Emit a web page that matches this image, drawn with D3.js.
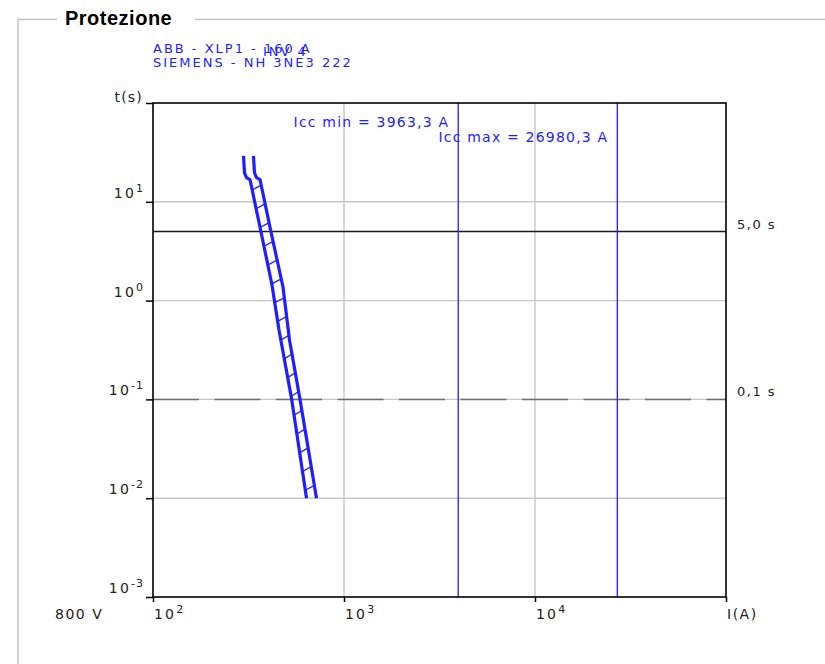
<!DOCTYPE html>
<html>
<head>
<meta charset="utf-8">
<script src="https://cdn.jsdelivr.net/npm/d3@7"></script>
<style>
body { margin: 0; background: #fff; }
text { font-family: "DejaVu Sans", Verdana, sans-serif; }
text.title { font-family: "Liberation Sans", Arial, sans-serif; }
</style>
</head>
<body>
<script>
// band of the fuse curve: current (A) and time (s), left and right edge
var currentMin = [297.7, 301.3, 308.7, 322.0, 367.7, 419.8, 456.8, 532.3, 636.5];
var timeMin = [29.1, 19.6, 17.6, 16.8, 4.95, 1.44, 0.504, 0.1, 0.01];
var currentMax = [335.8, 339.9, 348.3, 363.3, 414.8, 479.3, 518.4, 588.4, 717.8];
var timeMax = [29.1, 19.6, 17.6, 16.8, 4.95, 1.373, 0.399, 0.1, 0.01];

var iccValues = [3963.3, 26980.3];
var iccLabels = ['Icc min = 3963,3 A', 'Icc max = 26980,3 A'];
var timeLimits = [5, 0.1];
var timeLimitLabels = ['5,0 s', '0,1 s'];
var xTickExp = [2, 3, 4];
var yTickExp = [1, 0, -1, -2, -3];
var deviceLabels = ['ABB - XLP1 - 160 A', 'SIEMENS - NH 3NE3 222'];
var panelLabel = 'INV 4';
var title = 'Protezione';
var voltageLabel = '800 V';

var W = 825, H = 664;
var svg = d3.select('body').append('svg')
    .attr('width', W)
    .attr('height', H);

var x = d3.scaleLog().domain([1e2, 1e5]).range([153, 726]);
var y = d3.scaleLog().domain([1e-3, 1e2]).range([597, 103]);

var blue = '#1e1eff';
var txt = '#222';

// group frame
svg.append('path')
    .attr('d', 'M18,' + H + 'V19.5H57M195,19.5H' + W)
    .attr('fill', 'none')
    .attr('stroke', '#c4c4c4')
    .attr('stroke-width', 1.5);
svg.append('text')
    .attr('class', 'title')
    .attr('x', 65).attr('y', 25)
    .attr('font-size', 20).attr('font-weight', 'bold')
    .attr('letter-spacing', 0.5)
    .attr('fill', '#000')
    .text(title);

// grid
var grid = svg.append('g').attr('stroke', '#c8c8c8').attr('stroke-width', 1.4);
grid.selectAll('line.v').data([1e3, 1e4]).enter().append('line')
    .attr('x1', function (d) { return x(d); })
    .attr('x2', function (d) { return x(d); })
    .attr('y1', y.range()[1]).attr('y2', y.range()[0]);
grid.selectAll('line.h').data([10, 1, 0.1, 0.01]).enter().append('line')
    .attr('y1', function (d) { return y(d); })
    .attr('y2', function (d) { return y(d); })
    .attr('x1', x.range()[0]).attr('x2', x.range()[1]);

// time limits
svg.append('line')
    .attr('x1', x.range()[0]).attr('x2', x.range()[1])
    .attr('y1', y(timeLimits[0])).attr('y2', y(timeLimits[0]))
    .attr('stroke', '#1a1a1a').attr('stroke-width', 1.5);
svg.append('line')
    .attr('x1', x.range()[0]).attr('x2', x.range()[1])
    .attr('y1', y(timeLimits[1])).attr('y2', y(timeLimits[1]))
    .attr('stroke', '#6e6e6e').attr('stroke-width', 1.5)
    .attr('stroke-dasharray', '46,15.5');
svg.selectAll('text.lim').data(timeLimits).enter().append('text')
    .attr('x', 737)
    .attr('y', function (d) { return y(d) - 3; })
    .attr('font-size', 13).attr('letter-spacing', 1.5)
    .attr('fill', txt)
    .text(function (d, i) { return timeLimitLabels[i]; });

// short-circuit currents
svg.selectAll('line.icc').data(iccValues).enter().append('line')
    .attr('x1', function (d) { return x(d); })
    .attr('x2', function (d) { return x(d); })
    .attr('y1', y.range()[1]).attr('y2', y.range()[0])
    .attr('stroke', blue).attr('stroke-width', 1.3);
svg.selectAll('text.icc').data(iccValues).enter().append('text')
    .attr('x', function (d) { return x(d) - 9; })
    .attr('y', function (d, i) { return 127 + i * 15; })
    .attr('text-anchor', 'end')
    .attr('font-size', 14).attr('letter-spacing', 1.2)
    .attr('fill', blue)
    .text(function (d, i) { return iccLabels[i]; });

// axes
var xAxis = d3.axisBottom(x).tickValues([1e2, 1e3, 1e4, 1e5]).tickSize(5).tickFormat('');
var yAxis = d3.axisLeft(y).tickValues([1e2, 1e1, 1, 0.1, 0.01, 0.001]).tickSize(7).tickFormat('');
svg.append('g').attr('transform', 'translate(0,' + y.range()[0] + ')').call(xAxis)
    .call(function (g) { g.select('.domain').remove(); })
    .selectAll('line').attr('stroke', '#000').attr('stroke-width', 1.5);
svg.append('g').attr('transform', 'translate(' + x.range()[0] + ',0)').call(yAxis)
    .call(function (g) { g.select('.domain').remove(); })
    .selectAll('line').attr('stroke', '#000').attr('stroke-width', 1.5);
svg.append('rect')
    .attr('x', x.range()[0]).attr('y', y.range()[1])
    .attr('width', x.range()[1] - x.range()[0])
    .attr('height', y.range()[0] - y.range()[1])
    .attr('fill', 'none').attr('stroke', '#000').attr('stroke-width', 1.6);

// tick labels
var xl = svg.selectAll('text.xl').data(xTickExp).enter().append('text')
    .attr('x', function (d) { return x(Math.pow(10, d)) + 1; })
    .attr('y', 619)
    .attr('font-size', 14).attr('letter-spacing', 2.2)
    .attr('fill', txt);
xl.append('tspan').text('10');
xl.append('tspan').attr('dy', -6).attr('font-size', 11).attr('letter-spacing', 1)
    .text(function (d) { return d; });

var yl = svg.selectAll('text.yl').data(yTickExp).enter().append('text')
    .attr('x', 144)
    .attr('y', function (d) { return y(Math.pow(10, d)) - 4; })
    .attr('text-anchor', 'end')
    .attr('font-size', 14).attr('letter-spacing', 2.2)
    .attr('fill', txt);
yl.append('tspan').text('10');
yl.append('tspan').attr('dy', -6).attr('font-size', 11).attr('letter-spacing', 1)
    .text(function (d) { return d < 0 ? '-' + (-d) : d; });

svg.append('text').attr('x', 143).attr('y', 102).attr('text-anchor', 'end')
    .attr('font-size', 14).attr('letter-spacing', 1.2).attr('fill', txt).text('t(s)');
svg.append('text').attr('x', x(1e5) + 1).attr('y', 619)
    .attr('font-size', 14).attr('letter-spacing', 1.5).attr('fill', txt).text('I(A)');
svg.append('text').attr('x', 55).attr('y', 619)
    .attr('font-size', 14).attr('letter-spacing', 1.5).attr('fill', txt).text(voltageLabel);

// device labels
svg.selectAll('text.dev').data(deviceLabels).enter().append('text')
    .attr('x', 153)
    .attr('y', function (d, i) { return 53 + i * 14; })
    .attr('font-size', 13).attr('letter-spacing', 2)
    .attr('fill', blue)
    .text(function (d) { return d; });
svg.append('text').attr('x', 263).attr('y', 56)
    .attr('font-size', 13).attr('letter-spacing', 2)
    .attr('fill', blue).text(panelLabel);

// fuse band
var line = d3.line()
    .x(function (d) { return x(d[0]); })
    .y(function (d) { return y(d[1]); });
var minPts = d3.zip(currentMin, timeMin);
var maxPts = d3.zip(currentMax, timeMax);

// current at a given time on a band edge (log-log interpolation)
function currentAt(pts, t) {
    var lt = Math.log10(t);
    for (var i = 3; i < pts.length - 1; i++) {
        var a = Math.log10(pts[i][1]), b = Math.log10(pts[i + 1][1]);
        if (lt <= a && lt >= b) {
            var f = (lt - a) / (b - a);
            var la = Math.log10(pts[i][0]), lb = Math.log10(pts[i + 1][0]);
            return Math.pow(10, la + f * (lb - la));
        }
    }
    return pts[pts.length - 1][0];
}

var hatchT = d3.range(1.12, -1.95, -0.19).map(function (e) { return Math.pow(10, e); });
svg.append('g').selectAll('line').data(hatchT).enter().append('line')
    .attr('x1', function (d) { return x(currentAt(minPts, d)); })
    .attr('y1', function (d) { return y(d); })
    .attr('x2', function (d) { return x(currentAt(maxPts, d * 1.12)); })
    .attr('y2', function (d) { return y(d * 1.12); })
    .attr('stroke', blue).attr('stroke-width', 1.3);

svg.selectAll('path.band').data([minPts, maxPts]).enter().append('path')
    .attr('d', line)
    .attr('fill', 'none')
    .attr('stroke', blue)
    .attr('stroke-width', 3.2)
    .attr('stroke-linejoin', 'round');
</script>
</body>
</html>
